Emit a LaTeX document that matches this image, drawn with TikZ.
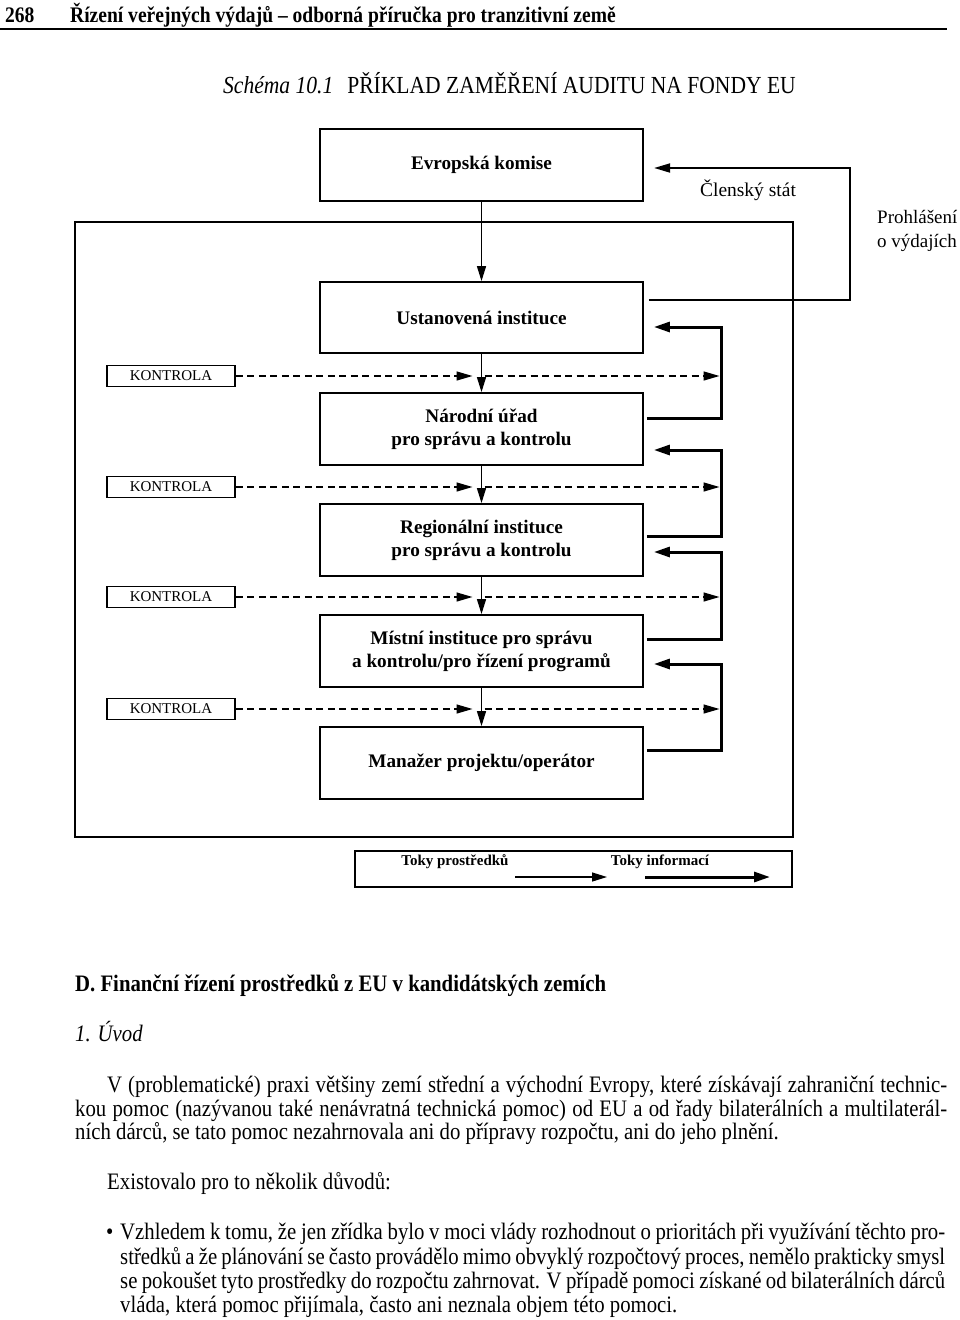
\documentclass[tikz,border=0pt]{standalone}
\usepackage{fontspec}
\setmainfont{Liberation Serif}
\newfontfamily\narrowfont{Liberation Serif}[FakeStretch=0.88]
\usetikzlibrary{arrows.meta}
\usetikzlibrary{calc}
\newcommand{\instw}{323pt}
\newcommand{\insth}{71pt}
\newcommand{\colx}{481.5}
\newcommand{\retx}{721}
\newcommand{\loopx}{850}
\newcommand{\kontx}{171}
\newcommand{\instfont}{\bfseries\fontsize{19.2}{23}\selectfont}
\newcommand{\bodyfont}{\narrowfont\fontsize{23.6}{24}\selectfont}
\newcommand{\parw}{840pt}
\newcommand{\parwfull}{872pt}
\newcommand{\bulletw}{825pt}

\begin{document}
\begin{tikzpicture}[x=1pt,y=-1pt,
    inst/.style={draw,line width=1.8pt,minimum width=\instw,minimum height=\insth,
      inner sep=0pt,align=center,font=\instfont},
    kont/.style={draw,line width=1.6pt,minimum width=128pt,minimum height=21pt,
      inner sep=0pt,font=\fontsize{15}{15}\selectfont},
    fund/.style={line width=1.3pt,-{Triangle[length=15pt,width=9pt]}},
    info/.style={line width=3pt,-{Triangle[length=16pt,width=10pt]}},
    ctrl/.style={line width=1.3pt,dash pattern=on 7pt off 4.5pt,
      -{Triangle[length=16pt,width=9pt]}},
    txt/.style={anchor=base west,inner sep=0pt,font=\bodyfont}]
    \fill[white] (0,0) rectangle (960,1320);
    \useasboundingbox (0,0) rectangle (960,1320);

    % running head
    \node[txt,font=\narrowfont\bfseries\fontsize{22.2}{22}\selectfont] (pgno) at (5,22) {268};
    \node[txt,font=\narrowfont\bfseries\fontsize{22.2}{22}\selectfont] (runhead) at (70,22)
      {Řízení veřejných výdajů – odborná příručka pro tranzitivní země};
    \draw[line width=1.8pt] (0,29) -- (947,29);
    \node[anchor=base,inner sep=0pt,font=\narrowfont\fontsize{24.5}{24}\selectfont] (title)
      at (509.5,93) {\textit{Schéma 10.1}\hspace{14pt}PŘÍKLAD ZAMĚŘENÍ AUDITU NA FONDY EU};

    % member state frame
    \node[draw,line width=1.5pt,minimum width=718pt,minimum height=615pt,inner sep=0pt]
      (ms) at (434,529.5) {};
    \node[font=\fontsize{19.5}{23}\selectfont] (mslabel) at (748,190) {Členský stát};
    \node[anchor=west,align=left,inner sep=0pt,font=\fontsize{19}{24}\selectfont] (decl)
      at (877,231) {Prohlášení\\o výdajích};

    % institutions
    \node[inst,line width=2.2pt,minimum height=72pt] (ek) at (\colx,165) {Evropská komise};
    \node[inst] (ui) at (\colx,317.5) {Ustanovená instituce};
    \node[inst,minimum height=72pt] (nu) at (\colx,429) {Národní úřad\\pro správu a kontrolu};
    \node[inst,minimum height=72pt] (ri) at (\colx,540) {Regionální instituce\\pro správu a kontrolu};
    \node[inst,minimum height=72pt] (mi) at (\colx,651) {Místní instituce pro správu\\a kontrolu/pro řízení programů};
    \node[inst,minimum height=72pt] (mp) at (\colx,763) {Manažer projektu/operátor};

    \draw[fund] (ek) -- (ui);
    \draw[fund] (ui) -- (nu);
    \draw[fund] (nu) -- (ri);
    \draw[fund] (ri) -- (mi);
    \draw[fund] (mi) -- (mp);

    % declaration loop
    \coordinate (loopc) at (\loopx,168);
    \draw[line width=1.8pt,-{Triangle[length=16pt,width=9pt]}]
      ([xshift=5pt,yshift=17.5pt]ui.east) -| (loopc) -- ([xshift=10pt,yshift=-3pt]ek.east);

    % controls
    \node[kont] (k1) at (\kontx,376) {KONTROLA};
    \node[kont] (k2) at (\kontx,487) {KONTROLA};
    \node[kont] (k3) at (\kontx,597) {KONTROLA};
    \node[kont] (k4) at (\kontx,709) {KONTROLA};
    \coordinate (v1) at (\colx,376);
    \coordinate (v2) at (\colx,487);
    \coordinate (v3) at (\colx,597);
    \coordinate (v4) at (\colx,709);
    \coordinate (w1) at (\retx,376);
    \coordinate (w2) at (\retx,487);
    \coordinate (w3) at (\retx,597);
    \coordinate (w4) at (\retx,709);
    \draw[ctrl,shorten >=9pt] (k1) -- (v1);
    \draw[ctrl,shorten >=9pt] (k2) -- (v2);
    \draw[ctrl,shorten >=9pt] (k3) -- (v3);
    \draw[ctrl,shorten >=9pt] (k4) -- (v4);
    \draw[ctrl,shorten <=3pt,shorten >=1.5pt] (v1) -- (w1);
    \draw[ctrl,shorten <=3pt,shorten >=1.5pt] (v2) -- (w2);
    \draw[ctrl,shorten <=3pt,shorten >=1.5pt] (v3) -- (w3);
    \draw[ctrl,shorten <=3pt,shorten >=1.5pt] (v4) -- (w4);

    % information flows
    \coordinate (ui-in) at ([xshift=10pt,yshift=-9.5pt]ui.east);
    \coordinate (nu-in) at ([xshift=10pt,yshift=-21pt]nu.east);
    \coordinate (ri-in) at ([xshift=10pt,yshift=-12pt]ri.east);
    \coordinate (mi-in) at ([xshift=10pt,yshift=-13pt]mi.east);
    \coordinate (nu-out) at ([xshift=3pt,yshift=11pt]nu.east);
    \coordinate (ri-out) at ([xshift=3pt,yshift=4pt]ri.east);
    \coordinate (mi-out) at ([xshift=3pt,yshift=12pt]mi.east);
    \coordinate (mp-out) at ([xshift=3pt,yshift=13pt]mp.east);
    \draw[info] (nu-out) -| (w1 |- ui-in) -- (ui-in);
    \draw[info] (ri-out) -| (w2 |- nu-in) -- (nu-in);
    \draw[info] (mi-out) -| (w3 |- ri-in) -- (ri-in);
    \draw[info] (mp-out) -| (w4 |- mi-in) -- (mi-in);

    % legend
    \node[draw,line width=1.5pt,minimum width=437pt,minimum height=36pt,inner sep=0pt]
      (legend) at (573.5,869) {};
    \node[font=\bfseries\fontsize{15}{15}\selectfont] (legfund) at (455,862) {Toky prostředků};
    \node[font=\bfseries\fontsize{15}{15}\selectfont] (leginfo) at (660,862) {Toky informací};
    \coordinate (lf1) at (515,877);
    \coordinate (lf2) at (607,877);
    \coordinate (li1) at (645,877);
    \coordinate (li2) at (770,877);
    \draw[fund] (lf1) -- (lf2);
    \draw[info] (li1) -- (li2);

    % text below
    \node[txt,font=\narrowfont\bfseries\fontsize{23.6}{24}\selectfont] (sect) at (75,991)
      {D. Finanční řízení prostředků z EU v kandidátských zemích};
    \node[txt,font=\narrowfont\itshape\fontsize{23.6}{24}\selectfont] (subsect) at (75,1041)
      {1. Úvod};
    \node[txt] (par1) at (107,1092) {\makebox[\parw][s]{V (problematické) praxi většiny zemí střední a východní Evropy, které získávají zahraniční technic-}};
    \node[txt] (par2) at (75,1116) {\makebox[\parwfull][s]{kou pomoc (nazývanou také nenávratná technická pomoc) od EU a od řady bilaterálních a multilaterál-}};
    \node[txt] (par3) at (75,1139) {ních dárců, se tato pomoc nezahrnovala ani do přípravy rozpočtu, ani do jeho plnění.};
    \node[txt] (par4) at (107,1189) {Existovalo pro to několik důvodů:};
    \node[txt] (bul) at (106,1239) {•};
    \node[txt] (item1) at (120,1239) {\makebox[\bulletw][s]{Vzhledem k tomu, že jen zřídka bylo v moci vlády rozhodnout o prioritách při využívání těchto pro-}};
    \node[txt] (item2) at (120,1264) {\makebox[\bulletw][s]{středků a že plánování se často provádělo mimo obvyklý rozpočtový proces, nemělo prakticky smysl}};
    \node[txt] (item3) at (120,1288) {\makebox[\bulletw][s]{se pokoušet tyto prostředky do rozpočtu zahrnovat. V případě pomoci získané od bilaterálních dárců}};
    \node[txt] (item4) at (120,1312) {vláda, která pomoc přijímala, často ani neznala objem této pomoci.};
\end{tikzpicture}
\end{document}
